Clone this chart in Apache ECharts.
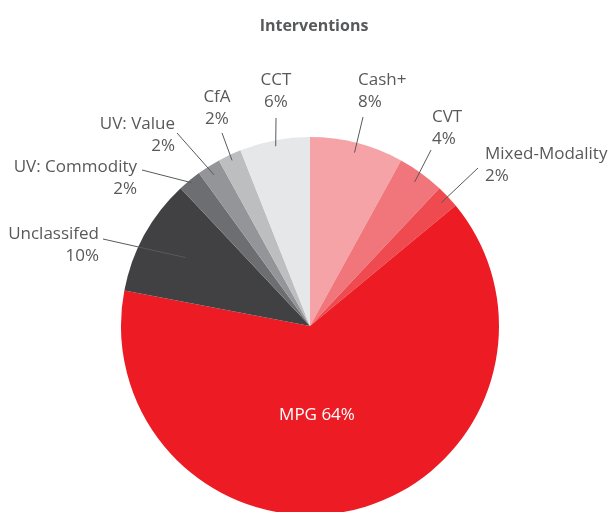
<!DOCTYPE html>
<html>
<head>
<meta charset="utf-8">
<script src="https://cdn.jsdelivr.net/npm/echarts@6/dist/echarts.min.js"></script>
<style>
  html, body { margin: 0; padding: 0; background: #fff; }
  #chart { width: 608px; height: 512px; }
</style>
</head>
<body>
<div id="chart"></div>
<script>
// 类别（顺时针，从12点开始）
var names = ['Cash+', 'CVT', 'Mixed-Modality', 'MPG', 'Unclassifed', 'UV: Commodity', 'UV: Value', 'CfA', 'CCT'];
// 占比 %
var shares = [8, 4, 2, 64, 10, 2, 2, 2, 6];
var colors = ['#f5a3a7', '#f1767b', '#ee4a50', '#ed1c24', '#414042', '#6d6e71', '#939598', '#bcbec0', '#e6e7e8'];

// 标签位置: [x, y(顶部), 对齐, 引线终点dx, dy, 引线起点半径]
var labelPos = [
  [358, 69, 'left', 5, 48, 179],
  [432, 106, 'left', -1, 44, 178],
  [485, 143, 'left', -7, 25, 180],
  [317, 415, 'center', 0, 0, 0],
  [99, 223, 'right', 4, 16, 142],
  [137, 156, 'right', 5, 14, 186],
  [175, 113, 'right', 2, 20, 179],
  [217, 86, 'center', 5, 47, 183],
  [276, 69, 'center', 0, 49, 183]
];

var cx = 310, cy = 326, R = 189;
var textColor = '#58595b';

// 每块扇区的中间角度
var total = shares.reduce(function (a, b) { return a + b; }, 0);
var midAngle = [];
var acc = 0;
for (var i = 0; i < shares.length; i++) {
  midAngle.push((acc + shares[i] / 2) / total * Math.PI * 2);
  acc += shares[i];
}

// 底层：实色扇区
var pieData = names.map(function (n, i) {
  return { name: n, value: shares[i], itemStyle: { color: colors[i] } };
});

// 上层：透明扇区，只画标签和引线（保证引线在扇区之上）
var labelData = names.map(function (n, i) {
  var item = { name: n, value: shares[i] };
  if (n === 'MPG') {
    item.label = { position: 'inside', color: '#fff', formatter: '{b} {c}%' };
    item.labelLine = { show: false };
  }
  return item;
});

var chart = echarts.init(document.getElementById('chart'));
var option = {
  animation: false,
  title: {
    text: 'Interventions',
    left: 309,
    textAlign: 'center',
    top: 13,
    textStyle: {
      color: textColor,
      fontSize: 16,
      fontWeight: 'bold',
      fontFamily: 'Open Sans'
    }
  },
  series: [
    {
      type: 'pie',
      center: [cx, cy],
      radius: R,
      startAngle: 90,
      clockwise: true,
      silent: true,
      label: { show: false },
      labelLine: { show: false },
      data: pieData
    },
    {
      type: 'pie',
      z: 5,
      center: [cx, cy],
      radius: R,
      startAngle: 90,
      clockwise: true,
      avoidLabelOverlap: false,
      silent: true,
      itemStyle: { color: 'rgba(0,0,0,0)' },
      label: {
        show: true,
        position: 'outside',
        overflow: 'none',
        formatter: '{b}\n{c}%',
        color: textColor,
        fontSize: 17,
        lineHeight: 22,
        fontFamily: 'Open Sans'
      },
      labelLine: {
        show: true,
        length: 20,
        length2: 0,
        lineStyle: { color: textColor, width: 1 }
      },
      labelLayout: function (p) {
        var L = labelPos[p.dataIndex];
        if (names[p.dataIndex] === 'MPG') {
          return { x: L[0], y: L[1], align: 'center', verticalAlign: 'middle' };
        }
        var a = midAngle[p.dataIndex];
        var inner = [cx + L[5] * Math.sin(a), cy - L[5] * Math.cos(a)];
        var end = [L[0] + L[3], L[1] + L[4]];
        return {
          x: L[0],
          y: L[1],
          align: L[2],
          verticalAlign: 'top',
          labelLinePoints: [inner, end, end]
        };
      },
      data: labelData
    }
  ]
};
chart.setOption(option);
</script>
</body>
</html>
